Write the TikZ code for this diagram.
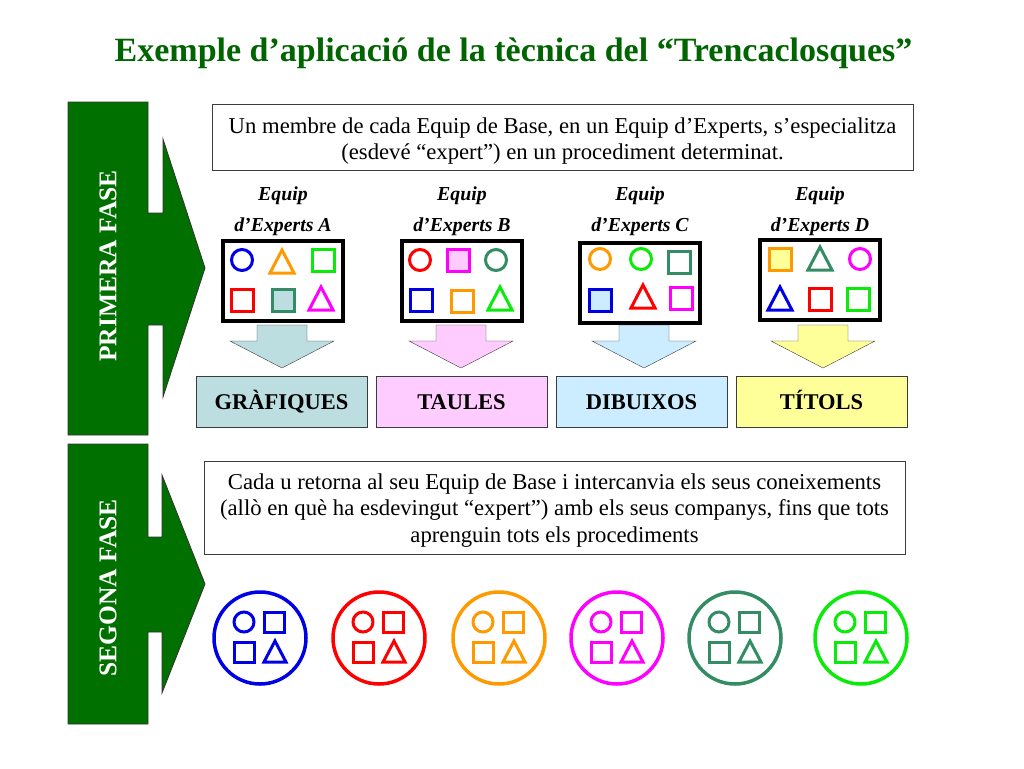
\documentclass[tikz,border=0pt]{standalone}
\usepackage{fontspec}
\setmainfont{Liberation Serif}
\usetikzlibrary{calc}
\definecolor{arrgreen}{RGB}{0,112,0}
\definecolor{titgreen}{RGB}{0,100,0}
\definecolor{sblue}{RGB}{0,0,230}
\definecolor{sred}{RGB}{255,0,0}
\definecolor{sorange}{RGB}{255,153,0}
\definecolor{sgreen}{RGB}{10,235,10}
\definecolor{steal}{RGB}{51,140,100}
\definecolor{smag}{RGB}{255,0,255}
\definecolor{fgraf}{RGB}{188,222,224}
\definecolor{ftaul}{RGB}{255,204,255}
\definecolor{fdib}{RGB}{204,236,255}
\definecolor{ftit}{RGB}{255,255,153}
\definecolor{edge}{RGB}{60,60,60}
\newcommand\mycirc[4][white]{\draw[shp,#4,fill=#1] (#2,#3) circle[radius=10.5];}
\newcommand\mysq[4][white]{\draw[shp,#4,fill=#1] ($(#2,#3)+(-11,-11)$) rectangle ($(#2,#3)+(11,11)$);}
\newcommand\mytri[4][white]{\draw[shp,#4,fill=#1,line join=miter] ($(#2,#3)+(0,-12)$) -- ($(#2,#3)+(12,11)$) -- ($(#2,#3)+(-12,11)$) -- cycle;}
\newcommand\smc[3]{\draw[sshp,#3] ($(#1,#2)+(-16,-16)$) circle[radius=10];}
\newcommand\sms[3]{\draw[sshp,#3] ($(#1,#2)+(4,-26)$) rectangle ($(#1,#2)+(24,-6)$);}
\newcommand\smsq[3]{\draw[sshp,#3] ($(#1,#2)+(-26,4)$) rectangle ($(#1,#2)+(-6,24)$);}
\newcommand\smt[3]{\draw[sshp,#3,line join=miter] ($(#1,#2)+(15,3)$) -- ($(#1,#2)+(26,24)$) -- ($(#1,#2)+(4,24)$) -- cycle;}
\newcommand\bigarrow[3]{\draw[thin,draw=edge,fill=#3] ($(#1,#2)+(-25,0)$) -- ($(#1,#2)+(25,0)$) -- ($(#1,#2)+(25,16)$) -- ($(#1,#2)+(52,16)$) -- ($(#1,#2)+(0,43)$) -- ($(#1,#2)+(-52,16)$) -- ($(#1,#2)+(-25,16)$) -- cycle;}
\tikzset{
  shp/.style={line width=3pt},
  sshp/.style={line width=3pt},
  ebox/.style={draw=black,line width=4pt,fill=white,minimum width=120pt,minimum height=80pt,inner sep=0pt},
  elab/.style={font=\fontsize{19.8}{22}\selectfont\bfseries\itshape,inner sep=0pt},
  lbox/.style={draw=edge,line width=1pt,minimum width=171pt,minimum height=51pt,inner sep=0pt,text height=16pt,text depth=0pt,font=\fontsize{22.5}{24}\selectfont\bfseries},
  tframe/.style={draw=edge,line width=1pt,minimum width=701pt,inner sep=0pt},
  ttext/.style={inner sep=0pt,align=center,font=\fontsize{22.7}{26.3}\selectfont},
  bcirc/.style={circle,line width=3.5pt,minimum size=92pt,inner sep=0pt},
  fase/.style={rotate=90,text=white,font=\fontsize{25.5}{28}\selectfont\bfseries,inner sep=0pt}
}
\begin{document}
\begin{tikzpicture}[x=1pt,y=-1pt]
\useasboundingbox[fill=white] (0,0) rectangle (1024,768);
% title
\node[text=titgreen,font=\fontsize{34}{36}\selectfont\bfseries,inner sep=0pt] (title) at (513.5,53) {Exemple d’aplicació de la tècnica del “Trencaclosques”};
% phase arrows
\draw[fill=arrgreen,draw=black!80,line width=0.8pt] (68,102) -- (148,102) -- (148,213) -- (163,213) -- (163,139) -- (205,268) -- (163,397) -- (163,325) -- (148,325) -- (148,435) -- (68,435) -- cycle;
\node[fase] (f1) at (108,266) {PRIMERA FASE};
\draw[fill=arrgreen,draw=black!80,line width=0.8pt] (68,444) -- (148,444) -- (148,537) -- (162,537) -- (162,475) -- (205,584) -- (162,693) -- (162,632) -- (148,632) -- (148,724) -- (68,724) -- cycle;
\node[fase] (f2) at (108,588) {SEGONA FASE};
% text box 1
\node[tframe,minimum height=66pt] (t1) at (562.5,137) {};
\node[ttext] (t1txt) at ($(t1.center)+(0,4)$) {Un membre de cada Equip de Base, en un Equip d’Experts, s’especialitza\\(esdevé “expert”) en un procediment determinat.};
% expert labels
\node[elab] (la1) at (283,196) {Equip};
\node[elab] (la2) at (283,227) {d’Experts A};
\node[elab] (lb1) at (462,196) {Equip};
\node[elab] (lb2) at (462,227) {d’Experts B};
\node[elab] (lc1) at (640,196) {Equip};
\node[elab] (lc2) at (640,227) {d’Experts C};
\node[elab] (ld1) at (820,196) {Equip};
\node[elab] (ld2) at (820,227) {d’Experts D};
% expert boxes
\node[ebox] (eA) at (283,281) {};
\node[ebox] (eB) at (462,281) {};
\node[ebox] (eC) at (640,283) {};
\node[ebox] (eD) at (820,280) {};
% shapes A
\mycirc{242}{260}{sblue}
\mytri{282}{262}{sorange}
\mysq{323}{260}{sgreen}
\mysq{242}{300}{sred}
\mysq[fgraf]{283}{300}{steal}
\mytri{321}{299}{smag}
% shapes B
\mycirc{420}{260}{sred}
\mysq[ftaul]{458}{260}{smag}
\mycirc{496}{260}{steal}
\mysq{421}{300}{sblue}
\mysq{462}{301}{sorange}
\mytri{500}{299}{sgreen}
% shapes C
\mycirc{600}{259}{sorange}
\mycirc{641}{259}{sgreen}
\mysq{679}{262}{steal}
\mysq[fdib]{600}{300}{sblue}
\mytri{643}{297}{sred}
\mysq{681}{298}{smag}
% shapes D
\mysq[ftit]{780}{259}{sorange}
\mytri{820}{259}{steal}
\mycirc{860}{259}{smag}
\mytri{780}{299}{sblue}
\mysq{820}{299}{sred}
\mysq{858}{299}{sgreen}
% down arrows
\bigarrow{282}{325}{fgraf}
\bigarrow{461}{325}{ftaul}
\bigarrow{644}{325}{fdib}
\bigarrow{823}{325}{ftit}
% label boxes
\node[lbox,fill=fgraf] (gA) at (281.5,401.5) {GRÀFIQUES};
\node[lbox,fill=ftaul] (gB) at (461.5,401.5) {TAULES};
\node[lbox,fill=fdib] (gC) at (641.5,401.5) {DIBUIXOS};
\node[lbox,fill=ftit] (gD) at (821.5,401.5) {TÍTOLS};
% text box 2
\node[tframe,minimum height=93pt] (t2) at (554.5,507.5) {};
\node[ttext] (t2txt) at ($(t2.center)+(0,3)$) {Cada u retorna al seu Equip de Base i intercanvia els seus coneixements\\(allò en què ha esdevingut “expert”) amb els seus companys, fins que tots\\aprenguin tots els procediments};
% base team circles
\foreach \cx/\cc [count=\i] in {260/sblue,379/sred,499/sorange,617/smag,735/steal,861/sgreen}{
  \node[bcirc,draw=\cc] (base\i) at (\cx,638) {};
  \smc{\cx}{638}{\cc}
  \sms{\cx}{638}{\cc}
  \smsq{\cx}{638}{\cc}
  \smt{\cx}{638}{\cc}
}
\end{tikzpicture}
\end{document}
